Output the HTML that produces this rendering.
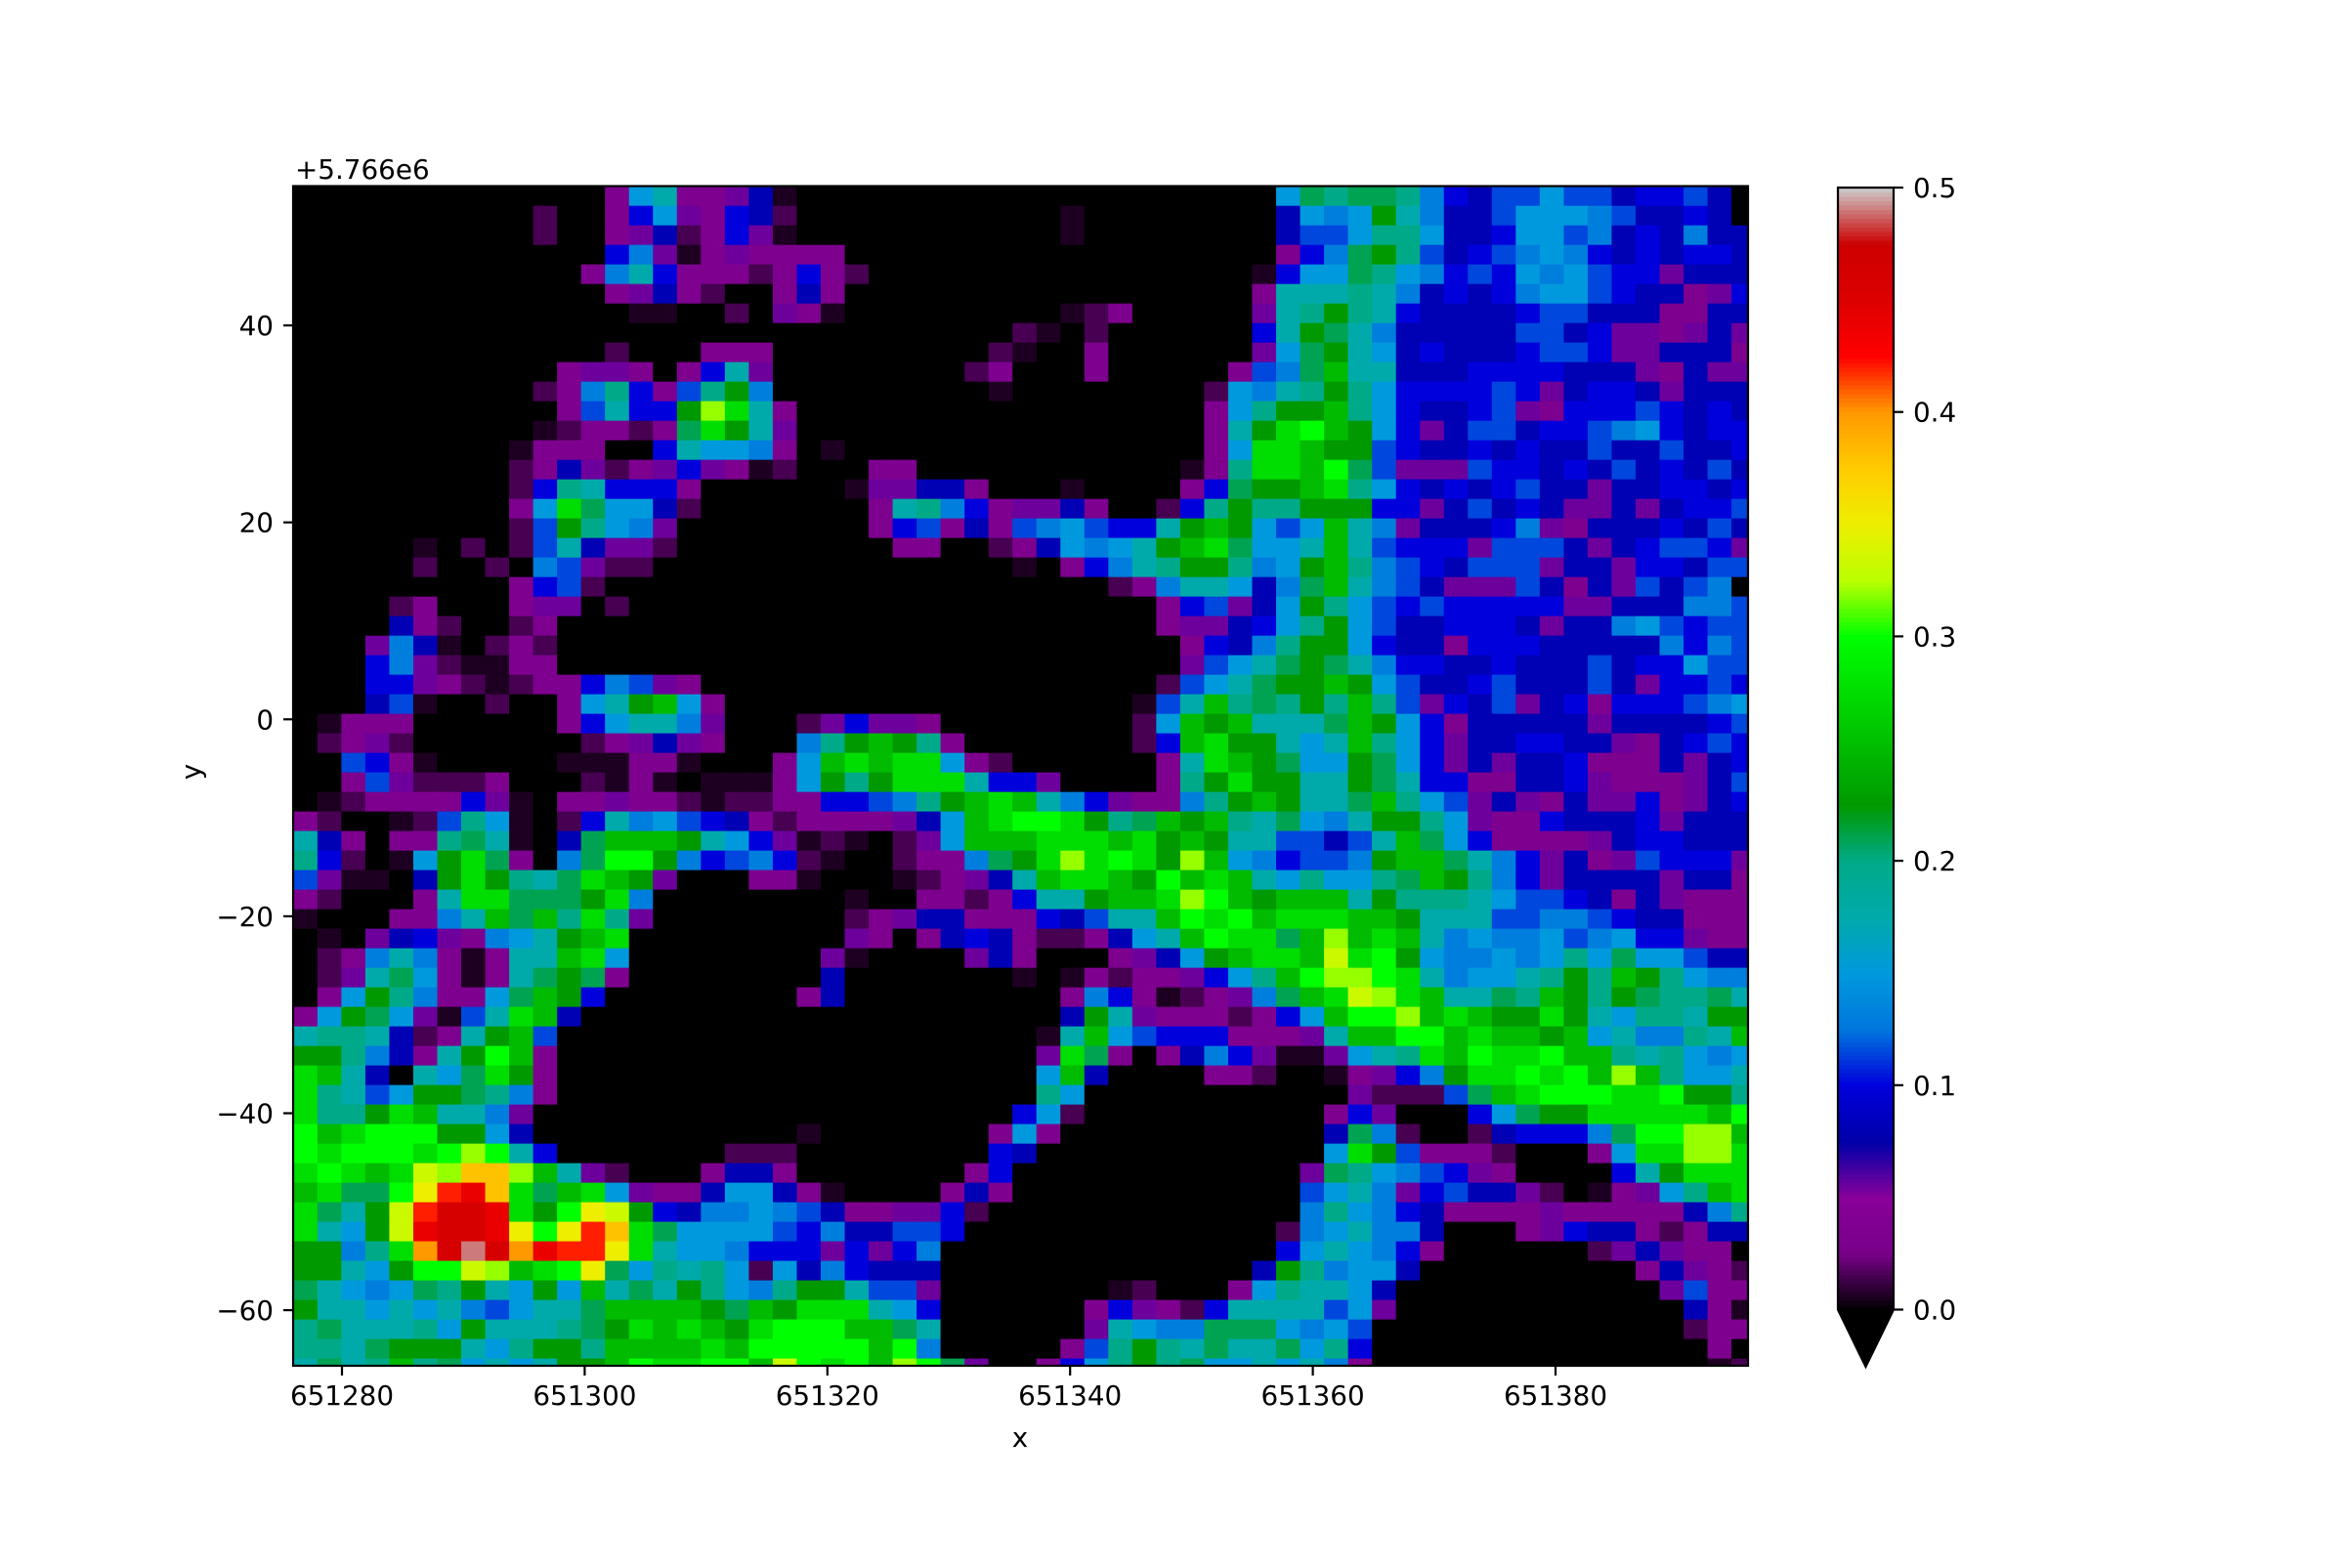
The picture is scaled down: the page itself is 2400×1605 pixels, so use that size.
<!DOCTYPE html>
<html><head><meta charset="utf-8"><style>
html,body{margin:0;padding:0;background:#fff;}
svg text{font-family:"DejaVu Sans","Liberation Sans",sans-serif;fill:#000;}
</style></head><body>
<svg id="chart" xmlns="http://www.w3.org/2000/svg" width="2400" height="1600" viewBox="0 0 2400 1600">
<rect x="0" y="0" width="2400" height="1600" fill="#fff"/>
<defs><clipPath id="plotclip"><rect x="300" y="190.5" width="1489" height="1207.5"/></clipPath></defs>
<g id="cells" clip-path="url(#plotclip)"></g>
<rect x="300" y="190.5" width="1489" height="1207.5" fill="none" stroke="#000" stroke-width="2.2"/>
<g id="xaxis"></g>
<g id="yaxis"></g>
<text x="302" y="183" font-size="27.8">+5.766e6</text>
<text x="1044" y="1481" font-size="27.8" text-anchor="middle">x</text>
<text x="0" y="0" font-size="27.8" text-anchor="middle" transform="translate(205,790) rotate(-90)">y</text>
<g id="cbar"></g>
</svg>
<script>
// ---- data ----
const levelChars  = ['.', ',', 'd', 'p', 'v', 'n', 'b', 'r', 'a', 'c', 't', 'q', 'm', 'g', 'G', 'h', 'l', 'L', 'Y', 'y', 'O', 'o', 'R', 'D', 'E', 'X'];
const levelValues = [0, 0.006, 0.015, 0.035, 0.055, 0.08, 0.1, 0.115, 0.13, 0.15, 0.175, 0.2, 0.21, 0.225, 0.25, 0.275, 0.3, 0.32, 0.333, 0.35, 0.38, 0.4, 0.42, 0.44, 0.46, 0.49];
const xEdgeStart = 651276;
const xCellSize = 1.975;
const yEdgeStart = 54.13;
const yCellSize = 1.984;
const xTicks = [651280, 651300, 651320, 651340, 651360, 651380];
const yTicks = [40, 20, 0, -20, -40, -60];
const cbarTicks = [0.0, 0.1, 0.2, 0.3, 0.4, 0.5];
const vmin = 0, vmax = 0.5;
const gridRows = [
[".............pctppvn", ",", "....................", "cmqmmqabnrrcrrnbbrn."],
["..........d..pbcvpbn", "d", "...........,........", "ncacgtannrcccarnnbn."],
["..........d..pvndpbv", ",", "...........,........", "nrrcqqcnnbccranbnann"],
[".............bav,pvp", "p", "pp..................", "pbamgqrnbracabnbnbbn"],
["............patbpppd", "p", "bpd................,", "bccmqcabrbcacrbbvnnn"],
[".............pvnpd..", "p", "np.................p", "tttqtanbnbaccrbnnpvb"],
["..............,,..d.", "v", "p,.........,dp.....v", "tqgqtbnnnnbrrnnnppnn"],
["....................", ".", ".........d,.d......b", "tgmtannnnnrrnbvvpvnv"],
[".............d...ppp", ".", "........d,..p......v", "cmgtcnbnnnbrrbvvnnnp"],
["...........pvvp.pbtv", ".", ".......dp...p.....pr", "amGttnnnbbbbnnnvpnvv"],
["..........dpaqbprqga", ".", "........,........dca", "tqgqcbbbbrbvnbbnvnnn"],
["...........prtbbgLht", "p", ".................pcq", "ggGqcbnnbrvpbbbrbnbn"],
["..........,dppdpmhgt", "v", ".................ptg", "hlGgcbvnrrnbbracbnbb"],
[".........,ppp..btcca", "p", ".,...............pch", "hGggrbnnbnbnnrnnrnnb"],
[".........dpnvdpvbvp,", "d", "...pp...........,pqh", "hGlmrvvvrbbnbnrnbnrn"],
[".........dbqtbbbp...", ".", "..,vvnnp...,....pbmg", "gGhqcbnbnbrnnvnnbbnb"],
[".........pchmccnd...", ".", "...ptqabpvvnp..dbqgq", "qgggbbvnrnbnvvnvnbbr"],
[".........drgqcav....", ".", "...pbrpnpracrbbtgGgc", "rcGtavnnnbavpnnnbnrn"],
[".....,.d.drtnvvd....", ".", "....pp..dpncactgGhmc", "ctGtrbbbvrrrnvnbrrbv"],
[".....d..d.arvdd.....", ".", ".........,.pbatqggqa", "cgGqarbnrrrvnnvbbnrr"],
[".........pbrd.................", "....dpattcnamGtarnvvvrnpnvrnra"],
["....dp...pvv.d................", "......pbrvncgqcrbrbbbbbvvnnnaar"],
["....npd..dp...................", "......pvvnbcqgcrnnbbbnvnnacrbrr"],
["...van,.dpd...................", ".......pbnaqggcbnnpbbbnnnnnabar"],
["...bavd,,pp...................", ".......vrctmgmtabbnnbnnnrnbbcrr"],
["...bbvpd,dppbarvp.............", "......drctmggGgcrnnbrnnnrnvbbrb"],
["...nr,..d..pctgGcp............", ".....,rtGqmqgqGqrvbnrvnbpbbbrac"],
[".,ppp......pbcttav...dvbvvp...", ".....dcGgGtttmGgcbpnnnnnvnnnnbr"],
[".dpvd.......dpvnvp...aqgGgqp..", ".....dbGhggtctGqcbvnnbbnnvpnbrb"],
["..rbp,.....,,,pp,...pcGhGhhcpd", "......pthGgmccgmcbvnvnnbpppnvnb"],
["..prvdddp...d,p,.,,,pcgqghhhtb", "bv....pqghggttgmtbbppnnbvpppvnr"],
[".,dppppbv,.ppvppd,ddppbbraqgGh", "GtabvppaqgGgttmGqcrvnvpnvvbpvnb"],
["pd..,drqc,.dbtacrbnpdppppvncGh", "llhgqmGgGqtmcatggqcvppbnnnbvnnn"],
["tnp.ppqmt,.nmGGGgtcbv,d,.dvcGG", "GhhhGhgGgttrrnrtGmcbppppvnbbnnn"],
["qbd.,cghmp.amllgabrabd,..dppam", "ghLhlhgLGcabrragGGmtabvnpvrbbbv"],
["rv,,.nghgqtmhGgv...pp,...,dpvn", "tGhhGglGhGtcqccqmGgqabvnnnnvnnp"],
["pd...pthhmmmgha........,..ppdp", "bttgGGhLlGgGGGtgqqqtcrrbnpnvppp"],
[",...ppatGmGqhqv........dpvnnpp", "pbnrttGlhlGhhhGGgtttrraarbnnppp"],
[".,.vnbvpactgGh.........vp.pnbn", "pddpnctGlhhmGLGhGtacaacracbbvpp"],
[".dpatap,pttGhc........v,....vn", "p...pvncgGhhGYhlgcaacacqcmccrnn"],
[".dvtmcp,ptmgmp........n.......", ",.,pdppvbcqGlLLlhtacctqgqGgqcaa"],
[".pcgqappcmGgb........pn.......", "..pabp,dpvamGhYLhGttmqGgqgmqqmt"],
["pcgmcv,rthGn..................", "..ngtvpppdpbcGllLGhGgghgtcqqtgg"],
["tqqtndptgGr...................", ".,tGcrbbbpppvtGGllGhGGgGctaaqtG"],
["ggqanptglGp...................", ".vhmp.pnabv,,vctqhGlhhlGGqtqcac"],
["hGtn.tcmhgp...................", ".cGn....ppd..,pvbaghhlhlGLGqcct"],
["hqtrcggmqap...................", ".qc...........vdddrmGhlllhhlggq"],
["hqqghGttav....................", "bcd..........pbv...bcmgghhhhhGl"],
["lGhlllggcn...........,.......p", "cp...........nmad..dnbbbamllLLG"],
["lhlllhlLltb.......ddd........b", "n............chgrpppd...pchhLLh"],
["hlhGhYLOOLGtvd...pnnp.......pb", "............vmqcarbvp....btghhh"],
["GhmmlyRDOhmGhcvppnccnp,....pnp", "............rctavbrnnvd.,pvcqGh"],
["hmtgYREEDhglyYgbnaacarnppvvbd.", "............aqcabnppppvpppppnaq"],
["htcgYDEEDylyROhmccccrbannrrb..", "...........dactaan...pvbnnpdpnn"],
["ggaqhoEXEoDRRyhtccabbbvbvba...", "...........bctcabp......dvnvpp."],
["ggtcgllYLGhlymcqtqcdcnabnnn...", "..........ngqaccn.........pnvpd"],
["mtcacmqgtcgcGtmtgqcaqggtrrv...", "....,d...pcqttcn...........vrpp"],
["gttctctarcttmGGGGgmGghhhtcb...", "...pbvpdbttttrcv............np,"],
["qmtttqcgtttqmghGhGghlllGGmt...", "...vtcaammmcacr.............dpp"],
["qqtmgggtcqggqGGGGhGlllllGla...", "..prqgqtmttmcqb..............p."],
["tmtqGqmctctggGlhhllGYlhlGLlmv.", ".pbcqgqmcctctap..............,d"]
];

// ---- scales ----
function xSc(v){ return 350 + (v - 651280) * 12.42; }
function ySc(v){ return 333.1 + (40 - v) * 10.08; }
function cbSc(v){ return 1340.5 - (v - vmin) / (vmax - vmin) * 1148.5; }

// nipy_spectral colormap
const cmPos = [0,0.05,0.1,0.15,0.2,0.25,0.3,0.35,0.4,0.45,0.5,0.55,0.6,0.65,0.7,0.75,0.8,0.85,0.9,0.95,1];
const cmR = [0,.4667,.5333,0,0,0,0,0,0,0,0,0,0,.7333,.9333,1,1,1,.8667,.8,.8];
const cmG = [0,0,0,0,0,.4667,.6,.6667,.6667,.6,.7333,.8667,1,1,.9333,.8,.6,0,0,0,.8];
const cmB = [0,.5333,.6,.6667,.8667,.8667,.8667,.6667,.5333,0,0,0,0,0,0,0,0,0,0,0,.8];
function cmap(v){
  let t = (v - vmin) / (vmax - vmin);
  t = Math.max(0, Math.min(1, t));
  let i = 0;
  while (i < cmPos.length - 2 && t > cmPos[i+1]) i++;
  const f = (t - cmPos[i]) / (cmPos[i+1] - cmPos[i]);
  const c = (a) => Math.round((a[i] + (a[i+1]-a[i]) * f) * 255);
  return 'rgb(' + c(cmR) + ',' + c(cmG) + ',' + c(cmB) + ')';
}
function fix(s, n){ s = s.slice(0, n); while (s.length < n) s += '.'; return s; }
function rowString(segs){
  const w = segs.length === 4 ? [20,1,20,20] : [30,31];
  return segs.map((s,i)=>fix(s,w[i])).join('');
}

const NS = 'http://www.w3.org/2000/svg';
function mk(tag, attrs, parent){
  const e = document.createElementNS(NS, tag);
  for (const k in attrs) e.setAttribute(k, attrs[k]);
  parent.appendChild(e);
  return e;
}

// ---- cells ----
const cellsG = document.getElementById('cells');
gridRows.forEach((segs, r) => {
  const s = rowString(segs);
  const yTopV = yEdgeStart - r * yCellSize;
  const yBotV = yTopV - yCellSize;
  for (let c = 0; c < s.length; c++) {
    const idx = levelChars.indexOf(s[c]);
    const val = idx < 0 ? 0 : levelValues[idx];
    const xL = xEdgeStart + c * xCellSize;
    const px0 = xSc(xL), px1 = xSc(xL + xCellSize);
    const py0 = ySc(yTopV), py1 = ySc(yBotV);
    const rect = mk('rect', {x: px0.toFixed(2), y: py0.toFixed(2), width: (px1-px0+0.6).toFixed(2), height: (py1-py0+0.6).toFixed(2), fill: cmap(val)}, cellsG);
    
    
  }
});

// ---- x axis ----
const xG = document.getElementById('xaxis');
xTicks.forEach(t => {
  const x = xSc(t);
  const ln = mk('line', {x1: x, x2: x, y1: 1398, y2: 1408, stroke: '#000', 'stroke-width': 2.2}, xG);
  
  
  const tx = mk('text', {x: x, y: 1438, 'font-size': 27.8, 'text-anchor': 'middle'}, xG);
  tx.textContent = String(t);
  
  
});

// ---- y axis ----
const yG = document.getElementById('yaxis');
yTicks.forEach(t => {
  const y = ySc(t);
  const ln = mk('line', {x1: 290, x2: 300, y1: y, y2: y, stroke: '#000', 'stroke-width': 2.2}, yG);
  
  
  const tx = mk('text', {x: 280, y: y + 10, 'font-size': 27.8, 'text-anchor': 'end'}, yG);
  tx.textContent = t < 0 ? '\u2212' + Math.abs(t) : String(t);
  
  
});

// ---- colorbar ----
const cb = document.getElementById('cbar');
const cbX0 = 1881, cbX1 = 1938;
const nSteps = 256;
for (let i = 0; i < nSteps; i++) {
  const v0 = vmin + (vmax - vmin) * i / nSteps;
  const v1 = vmin + (vmax - vmin) * (i + 1) / nSteps;
  const r = mk('rect', {x: cbX0, y: cbSc(v1).toFixed(2), width: cbX1 - cbX0, height: (cbSc(v0) - cbSc(v1) + 0.6).toFixed(2), fill: cmap((v0+v1)/2)}, cb);
  
  
}
const tri = mk('polygon', {points: cbX0 + ',' + cbSc(0) + ' ' + cbX1 + ',' + cbSc(0) + ' ' + ((cbX0+cbX1)/2) + ',1399', fill: '#000'}, cb);


const outline = mk('path', {d: 'M' + cbX0 + ',' + cbSc(vmax) + ' L' + cbX1 + ',' + cbSc(vmax) + ' L' + cbX1 + ',' + cbSc(0) + ' L' + ((cbX0+cbX1)/2) + ',1399 L' + cbX0 + ',' + cbSc(0) + ' Z', fill: 'none', stroke: '#000', 'stroke-width': 2.2}, cb);


cbarTicks.forEach(t => {
  const y = cbSc(t);
  const ln = mk('line', {x1: cbX1, x2: cbX1 + 10, y1: y, y2: y, stroke: '#000', 'stroke-width': 2.2}, cb);
  
  
  const tx = mk('text', {x: 1958, y: y + 10, 'font-size': 27.8}, cb);
  tx.textContent = t.toFixed(1);
  
  
});
</script>
</body></html>
